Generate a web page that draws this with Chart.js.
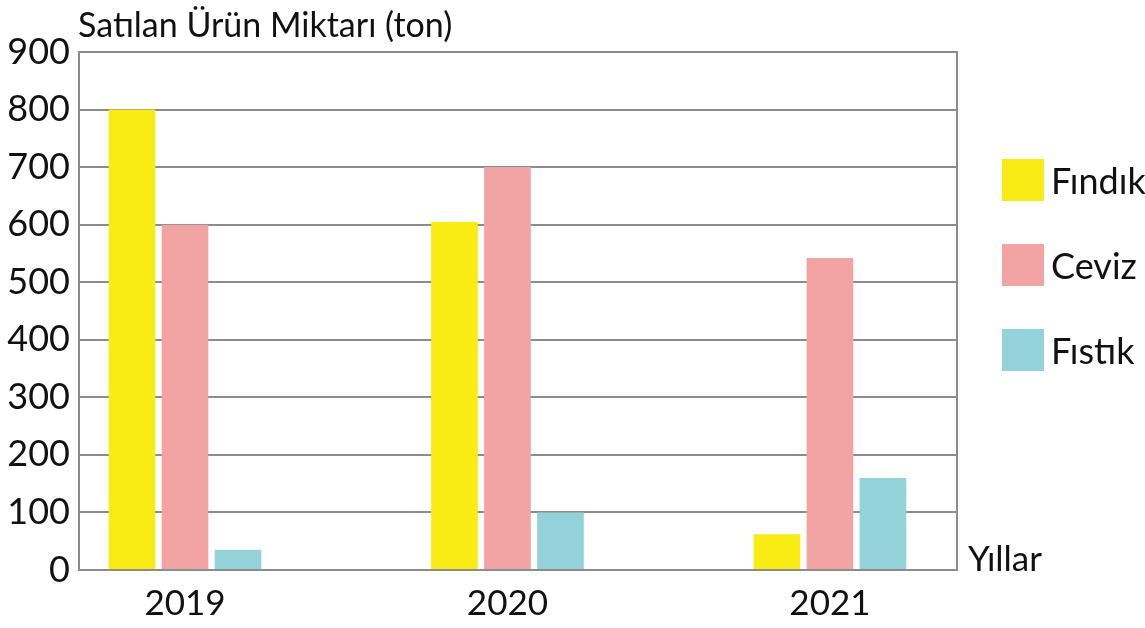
<!DOCTYPE html>
<html lang="tr">
<head>
<meta charset="utf-8">
<title>Satılan Ürün Miktarı</title>
<script src="https://cdn.jsdelivr.net/npm/chart.js@4.4.1/dist/chart.umd.min.js"></script>
<style>
  html, body { margin: 0; padding: 0; background: #ffffff; }
  #wrap { width: 1145px; height: 628px; position: relative; }
</style>
</head>
<body>
<div id="wrap"><canvas id="c" width="1145" height="628"></canvas></div>
<script>
// Years on the horizontal axis
const years = ['2019', '2020', '2021'];
// Tons sold per product and year
const findik = [800, 605, 62];
const ceviz = [600, 700, 542];
const fistik = [35, 100, 160];
// Value axis ticks
const yTicks = [0, 100, 200, 300, 400, 500, 600, 700, 800, 900];

const seriesNames = ['Fındık', 'Ceviz', 'Fıstık'];
const seriesColors = ['#F9EC14', '#F2A4A5', '#93D2D8'];

const chartTitle = 'Satılan Ürün Miktarı (ton)';
const xAxisName = 'Yıllar';

const FONT = 'Lato, "Open Sans", sans-serif';
const GRID = '#8c8c8c';

function toPoints(values) {
  return values.map((v, i) => ({ x: i, y: v }));
}

// Title, axis name and legend drawn around the chart area
const decorations = {
  id: 'decorations',
  afterDraw(chart) {
    const { ctx, chartArea, scales } = chart;
    ctx.save();
    ctx.fillStyle = '#111111';
    ctx.font = '34px ' + FONT;
    ctx.textAlign = 'left';
    ctx.textBaseline = 'alphabetic';
    ctx.fillText(chartTitle, chartArea.left - 1, 37);

    ctx.font = '35px ' + FONT;
    ctx.fillText(xAxisName, chartArea.right + 11, scales.y.getPixelForValue(0) + 1);

    ctx.font = '36px ' + FONT;
    ctx.textBaseline = 'middle';
    chart.data.datasets.forEach((ds, i) => {
      const bx = chartArea.right + 45;
      const by = 159 + 85 * i;
      ctx.fillStyle = ds.backgroundColor;
      ctx.fillRect(bx, by, 42, 42);
      ctx.fillStyle = '#111111';
      ctx.fillText(ds.label, bx + 49, by + 23);
    });
    ctx.restore();
  }
};

const datasets = [findik, ceviz, fistik].map((values, i) => ({
  label: seriesNames[i],
  data: toPoints(values),
  backgroundColor: seriesColors[i],
  borderColor: 'rgba(0,0,0,0)',
  borderWidth: { left: 3.5, right: 3.5, top: 0, bottom: 0 },
  borderSkipped: false,
  barThickness: 53
}));

new Chart(document.getElementById('c'), {
  type: 'bar',
  data: { datasets },
  options: {
    responsive: false,
    animation: false,
    layout: { padding: { top: 52, right: 188, bottom: 0, left: 0 } },
    plugins: {
      legend: { display: false },
      tooltip: { enabled: false },
      title: { display: false }
    },
    scales: {
      x: {
        type: 'linear',
        offset: false,
        min: -0.3287,
        max: 2.394,
        afterBuildTicks(axis) {
          axis.ticks = years.map((_, i) => ({ value: i }));
        },
        afterFit(axis) { axis.height = 58; },
        ticks: {
          callback: (v) => years[v],
          color: '#111111',
          font: { family: FONT, size: 35 },
          padding: 13,
          maxRotation: 0,
          autoSkip: false
        },
        grid: { display: false, drawTicks: false, offset: false },
        border: { display: true, color: GRID, width: 2 }
      },
      y: {
        min: 0,
        max: 900,
        afterBuildTicks(axis) {
          axis.ticks = yTicks.map((v) => ({ value: v }));
        },
        afterFit(axis) { axis.width = 79; },
        ticks: {
          color: '#111111',
          font: { family: FONT, size: 36 },
          padding: 9
        },
        grid: { color: GRID, lineWidth: 2, drawTicks: false },
        border: { display: true, color: GRID, width: 2 }
      },
      yRight: {
        position: 'right',
        min: 0,
        max: 900,
        ticks: { display: false },
        grid: { display: false, drawTicks: false },
        border: { display: true, color: GRID, width: 2 },
        afterFit(axis) { axis.width = 0; }
      }
    }
  },
  plugins: [decorations]
});
</script>
</body>
</html>
